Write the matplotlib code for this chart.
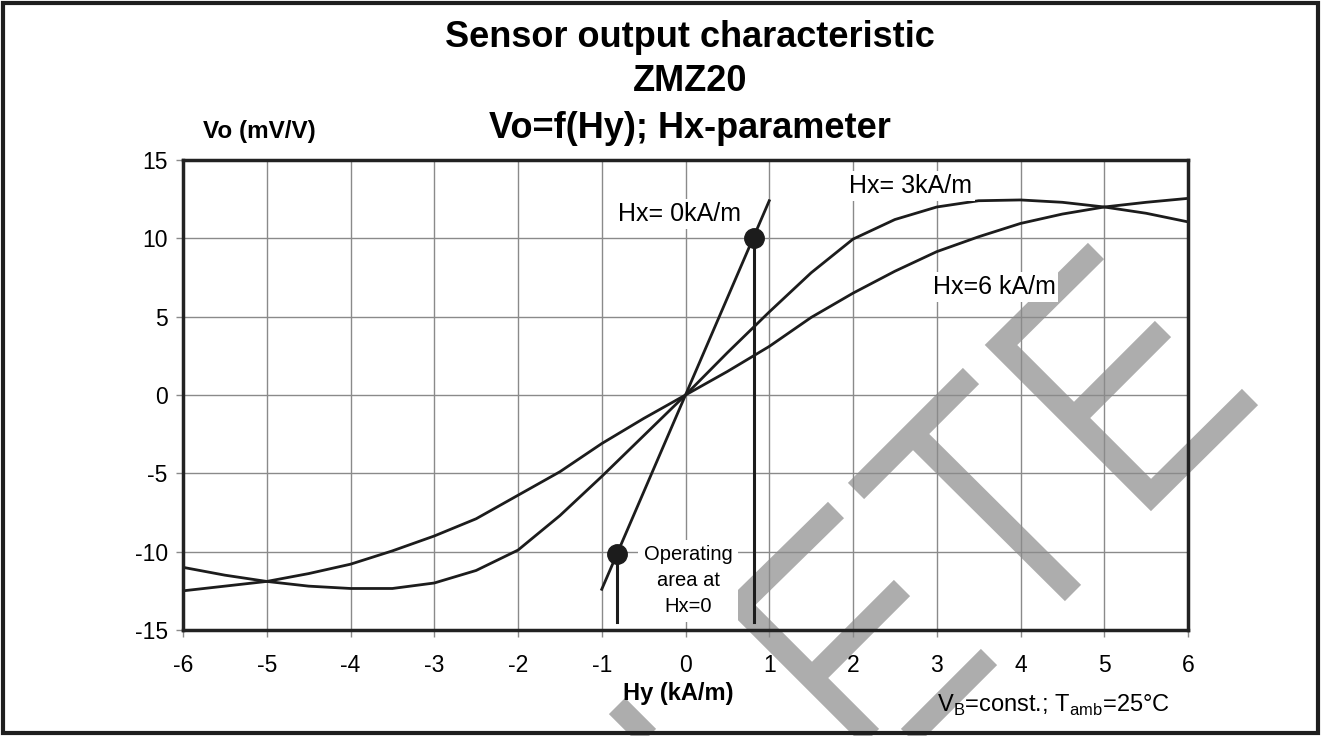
import matplotlib
matplotlib.use('Agg')
import matplotlib.pyplot as plt
from matplotlib.lines import Line2D
from matplotlib.patches import Rectangle

plt.rcParams['font.family'] = ['Liberation Sans', 'DejaVu Sans']
plt.rcParams['mathtext.fontset'] = 'custom'
plt.rcParams['mathtext.rm'] = 'Liberation Sans'

# Data
hy = [-6, -5.5, -5, -4.5, -4, -3.5, -3, -2.5, -2, -1.5, -1, -0.5, 0,
      0.5, 1, 1.5, 2, 2.5, 3, 3.5, 4, 4.5, 5, 5.5, 6]
vo_hx3 = [-11.0, -11.5, -11.9, -12.2, -12.35, -12.35, -12.0, -11.2, -9.9, -7.7, -5.2, -2.6, 0,
          2.7, 5.3, 7.8, 9.95, 11.2, 12.0, 12.4, 12.45, 12.3, 12.0, 11.6, 11.05]
vo_hx6 = [-12.5, -12.2, -11.9, -11.4, -10.8, -9.95, -9.0, -7.9, -6.4, -4.9, -3.1, -1.5, 0,
          1.5, 3.1, 4.95, 6.5, 7.9, 9.15, 10.1, 10.95, 11.55, 12.0, 12.3, 12.55]
hy_hx0 = [-1.0, 1.0]
vo_hx0 = [-12.4, 12.4]
op_hy = [-0.82, 0.82]
op_vo = [-10.15, 10.0]
op_floor = -14.5

xticks = [-6, -5, -4, -3, -2, -1, 0, 1, 2, 3, 4, 5, 6]
yticks = [-15, -10, -5, 0, 5, 10, 15]

W, H = 1322, 736
fig = plt.figure(figsize=(W / 100, H / 100), dpi=100)


def px(x, y):
    return x / W, 1 - y / H


# grey watermark strokes (pixel positions on the page)
watermark = [
    [(1096, 251), (1001, 345), (1151, 495), (1250, 397)],
    [(1074, 418), (1163, 329)],
    [(856, 491), (971, 376)],
    [(913, 434), (1073, 593)],
    [(836, 510), (739, 605), (890, 756), (989, 657)],
    [(812, 678), (902, 588)],
    [(617, 706), (678, 767)],
]
for stroke in watermark:
    xs = [px(x, y)[0] for x, y in stroke]
    ys = [px(x, y)[1] for x, y in stroke]
    fig.add_artist(Line2D(xs, ys, color='#adadad', lw=16.5, solid_joinstyle='miter',
                          solid_capstyle='butt', zorder=-1))

fig.add_artist(Rectangle(px(3, 733), 1315 / W, 730 / H, fill=False,
                         edgecolor='#1e1e1e', lw=3, zorder=5))

ax = fig.add_axes([183 / W, 1 - 630 / H, 1005 / W, 470 / H])
ax.set_facecolor('none')
ax.set_xlim(-6, 6)
ax.set_ylim(-15, 15)
ax.set_xticks(xticks)
ax.set_yticks(yticks)
ax.set_xticklabels([str(t) for t in xticks])
ax.set_yticklabels([str(t) for t in yticks])
ax.grid(True, color='#8a8a8a', lw=1.0)
ax.set_axisbelow(True)
for s in ax.spines.values():
    s.set_linewidth(2.5)
    s.set_color('#222222')
ax.tick_params(axis='y', length=5, width=1, color='#8a8a8a', pad=6, labelsize=16.5)
ax.tick_params(axis='x', length=5, width=1, color='#8a8a8a', pad=12, labelsize=16.5)

lc = '#1c1c1c'
ax.plot(hy, vo_hx3, color=lc, lw=2.0)
ax.plot(hy, vo_hx6, color=lc, lw=2.0)
ax.plot(hy_hx0, vo_hx0, color=lc, lw=2.0)
for x, y in zip(op_hy, op_vo):
    ax.plot([x, x], [y, op_floor], color=lc, lw=2.2)
ax.plot(op_hy, op_vo, 'o', color=lc, ms=14, zorder=4)

box = dict(facecolor='white', edgecolor='none', pad=2)
ax.text(-0.8, 11.1, 'Hx= 0kA/m', fontsize=18, ha='left', va='baseline', bbox=box)
ax.text(1.95, 12.9, 'Hx= 3kA/m', fontsize=18, ha='left', va='baseline', bbox=box)
ax.text(2.95, 6.45, 'Hx=6 kA/m', fontsize=18, ha='left', va='baseline', bbox=box)
ax.text(0.03, -11.85, 'Operating\narea at\nHx=0', fontsize=14.5, ha='center', va='center',
        multialignment='center', linespacing=1.45,
        bbox=dict(facecolor='white', edgecolor='none', pad=4))

tfont = dict(fontsize=26, fontweight='bold', ha='center', va='baseline')
fig.text(*px(690, 47), 'Sensor output characteristic', **tfont)
fig.text(*px(690, 91), 'ZMZ20', **tfont)
fig.text(*px(690, 138), 'Vo=f(Hy); Hx-parameter', **tfont)
fig.text(*px(203, 138), 'Vo (mV/V)', fontsize=17.5, fontweight='bold', ha='left', va='baseline')
fig.text(*px(678, 700), 'Hy (kA/m)', fontsize=17, fontweight='bold', ha='center', va='baseline')
fig.text(*px(937, 712), r'V$_{\mathrm{B}}$=const.; T$_{\mathrm{amb}}$=25°C', fontsize=17,
         ha='left', va='baseline')

fig.savefig('out.png', dpi=100)
